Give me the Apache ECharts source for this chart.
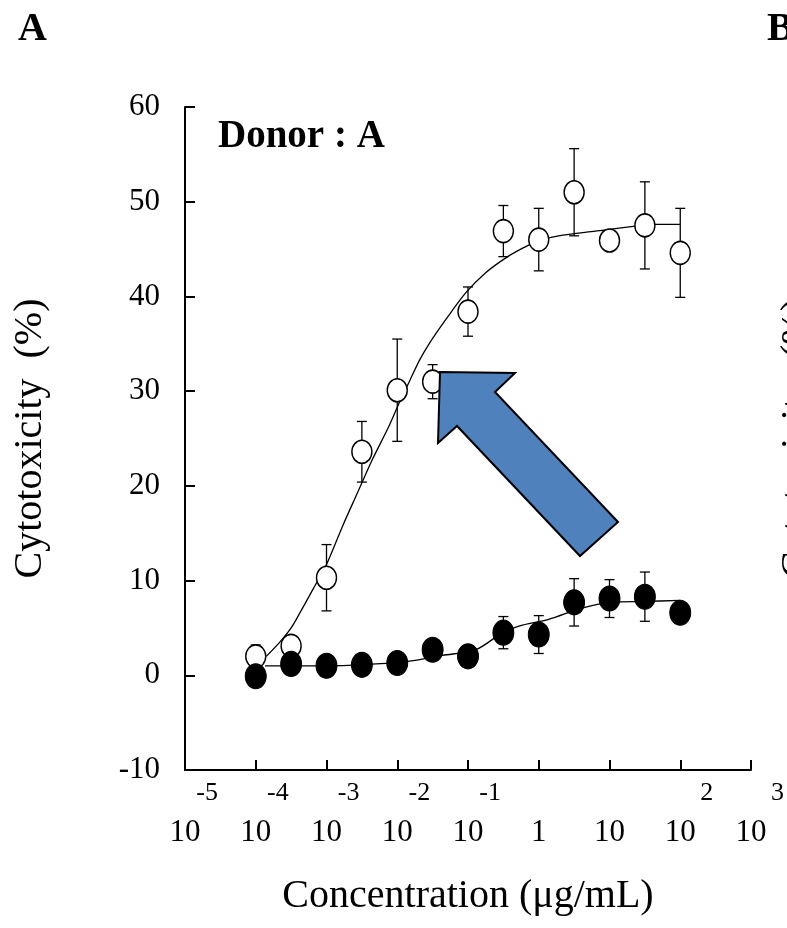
<!DOCTYPE html>
<html>
<head>
<meta charset="utf-8">
<script src="https://cdn.jsdelivr.net/npm/echarts@6/dist/echarts.min.js"></script>
<style>
html,body{margin:0;padding:0;background:#fff;}
#chart{width:787px;height:928px;}
</style>
</head>
<body>
<div id="chart"></div>
<script>
// log10 concentration of each measured point
const xLog = [-4, -3.5, -3, -2.5, -2, -1.5, -1, -0.5, 0, 0.5, 1, 1.5, 2];
// open circles (mean, error)
const openMean = [2.0, 3.1, 10.3, 23.6, 30.1, 31.0, 38.4, 46.9, 46.0, 51.0, 45.9, 47.5, 44.6];
const openErr  = [1.2, 0, 3.5, 3.2, 5.4, 1.8, 2.6, 2.7, 3.3, 4.6, 0, 4.6, 4.7];
// filled circles (mean, error)
const filledMean = [-0.1, 1.2, 1.0, 1.1, 1.3, 2.7, 2.0, 4.5, 4.3, 7.7, 8.1, 8.3, 6.6];
const filledErr  = [0, 0, 0, 0, 0, 0, 0, 1.7, 2.0, 2.5, 2.0, 2.6, 0];
// fitted curves
const openFitX = [-3.85, -3.66, -3.50, -3.36, -3.19, -3.0, -2.77, -2.56, -2.35, -2.13, -1.97, -1.83, -1.69, -1.55, -1.31, -1.03, -0.75, -0.46, -0.2, 0.0, 0.28, 0.80, 1.45, 1.64, 2.0];
const openFitY = [2.0, 3.5, 5.0, 6.8, 9.1, 11.7, 15.8, 19.3, 22.8, 26.1, 28.8, 31.0, 33.2, 35.0, 37.6, 40.4, 42.5, 44.1, 45.2, 45.9, 46.4, 46.9, 47.5, 47.6, 47.6];
const filledFitX = [-3.87, -2.96, -2.30, -1.83, -1.36, -0.89, -0.51, -0.28, 0.14, 0.61, 1.03, 1.50, 2.0];
const filledFitY = [1.0, 1.0, 1.2, 1.5, 2.1, 2.7, 4.5, 5.2, 5.9, 7.1, 7.7, 7.8, 7.9];
// x tick labels: exponent row and base row (for ticks -5 .. 3)
const xTickExp  = ['-5', '-4', '-3', '-2', '-1', '', '', '2', '3'];
const xTickBase = ['10', '10', '10', '10', '10', '1', '10', '10', '10'];
const yTicks = [-10, 0, 10, 20, 30, 40, 50, 60];

const FONT = "'Liberation Serif', 'Times New Roman', serif";

const pair = (xs, ys) => xs.map((x, i) => [x, ys[i]]);
const errData = (means, errs) => xLog.map((x, i) => [x, means[i] - errs[i], means[i] + errs[i], errs[i]]).filter(d => d[3] > 0);

function renderErr(params, api) {
  const x = api.value(0), lo = api.value(1), hi = api.value(2);
  const a = api.coord([x, lo]), b = api.coord([x, hi]);
  const hw = 5;
  const st = {stroke: '#000', lineWidth: 1.3};
  return {type: 'group', children: [
    {type: 'line', shape: {x1: a[0], y1: a[1], x2: b[0], y2: b[1]}, style: st},
    {type: 'line', shape: {x1: b[0] - hw, y1: b[1], x2: b[0] + hw, y2: b[1]}, style: st},
    {type: 'line', shape: {x1: a[0] - hw, y1: a[1], x2: a[0] + hw, y2: a[1]}, style: st}
  ]};
}

const chart = echarts.init(document.getElementById('chart'));
const option = {
  animation: false,
  backgroundColor: '#fff',
  grid: {left: 185, right: 35, top: 107, bottom: 158},
  xAxis: {
    type: 'value', min: -5, max: 3, interval: 1,
    axisLine: {show: true, onZero: false, lineStyle: {color: '#000', width: 2}},
    axisTick: {show: true, inside: true, length: 10, lineStyle: {color: '#000', width: 2}},
    splitLine: {show: false},
    axisLabel: {
      margin: 3, showMinLabel: true, showMaxLabel: true, hideOverlap: false,
      formatter: v => {
        const i = Math.round(v + 5);
        const e = xTickExp[i] || ' ';
        return '{e|' + e + '}\n{b|' + xTickBase[i] + '}';
      },
      rich: {
        e: {fontSize: 26, fontFamily: FONT, color: '#000', lineHeight: 40, align: 'right', width: 66},
        b: {fontSize: 31, fontFamily: FONT, color: '#000', lineHeight: 40, align: 'center'}
      }
    },
    name: 'Concentration (μg/mL)',
    nameLocation: 'middle', nameGap: 106,
    nameTextStyle: {fontSize: 40, fontFamily: FONT, color: '#000'}
  },
  yAxis: {
    type: 'value', min: -10, max: 60, interval: 10,
    axisLine: {show: true, onZero: false, lineStyle: {color: '#000', width: 2}},
    axisTick: {show: true, inside: true, length: 10, lineStyle: {color: '#000', width: 2}},
    splitLine: {show: false},
    axisLabel: {margin: 25, fontSize: 31, fontFamily: FONT, color: '#000',
      formatter: v => yTicks.includes(v) ? String(v) : ''},
    name: 'Cytotoxicity  (%)',
    nameLocation: 'middle', nameRotate: 90, nameGap: 135,
    nameTextStyle: {fontSize: 40, fontFamily: FONT, color: '#000'}
  },
  series: [
    {type: 'line', data: pair(openFitX, openFitY), smooth: 0.3, showSymbol: false, symbol: 'none',
     lineStyle: {color: '#000', width: 1.3}, z: 2, silent: true},
    {type: 'line', data: pair(filledFitX, filledFitY), smooth: 0.3, showSymbol: false, symbol: 'none',
     lineStyle: {color: '#000', width: 1.3}, z: 2, silent: true},
    {type: 'custom', renderItem: renderErr, data: errData(openMean, openErr), z: 3, silent: true},
    {type: 'custom', renderItem: renderErr, data: errData(filledMean, filledErr), z: 3, silent: true},
    {type: 'scatter', data: pair(xLog, openMean), symbol: 'circle', symbolSize: [20, 23],
     itemStyle: {color: '#fff', borderColor: '#000', borderWidth: 1.5, opacity: 1}, z: 4, silent: true},
    {type: 'scatter', data: pair(xLog, filledMean), symbol: 'circle', symbolSize: [21, 25],
     itemStyle: {color: '#000', borderColor: '#000', borderWidth: 1, opacity: 1}, z: 5, silent: true}
  ],
  graphic: [
    {type: 'polygon', z: 10,
     shape: {points: [[440, 372], [515, 373], [495, 392], [618, 522], [580, 556], [457, 426], [438, 443]]},
     style: {fill: '#4f81bd', stroke: '#000', lineWidth: 2}},
    {type: 'text', z: 10, style: {x: 218, y: 137, text: 'Donor : A', font: 'bold 39px ' + FONT, fill: '#000', verticalAlign: 'middle', align: 'left'}},
    {type: 'text', z: 10, style: {x: 18, y: 30, text: 'A', font: 'bold 40px ' + FONT, fill: '#000', verticalAlign: 'middle', align: 'left'}},
    {type: 'text', z: 10, style: {x: 767, y: 30, text: 'B', font: 'bold 40px ' + FONT, fill: '#000', verticalAlign: 'middle', align: 'left'}},
    {type: 'text', z: 10, x: 797, y: 438, rotation: Math.PI / 2,
     style: {x: 0, y: 0, text: 'Cytotoxicity  (%)', font: '40px ' + FONT, fill: '#000', verticalAlign: 'middle', align: 'center'}}
  ]
};
chart.setOption(option);
</script>
</body>
</html>
